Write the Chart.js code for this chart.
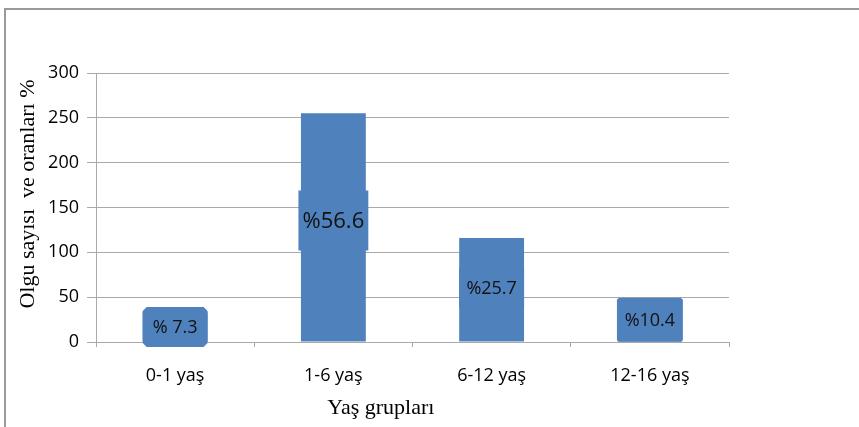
<!DOCTYPE html>
<html>
<head>
<meta charset="utf-8">
<script src="https://cdn.jsdelivr.net/npm/chart.js@4/dist/chart.umd.min.js"></script>
<style>
  html, body { margin: 0; padding: 0; background: #fff; }
  #wrap { position: relative; width: 859px; height: 427px; overflow: hidden; }
  #frame { position: absolute; left: 4px; top: 8px; width: 870px; height: 440px;
           border-left: 2px solid #9a9a9a; border-top: 2px solid #9a9a9a; }
  canvas { position: absolute; left: 0; top: 0; }
</style>
</head>
<body>
<div id="wrap">
  <div id="frame"></div>
  <canvas id="chart" width="859" height="427"></canvas>
</div>
<script>
// Yaş gruplarına göre olgu sayısı
const categories = ['0-1 yaş', '1-6 yaş', '6-12 yaş', '12-16 yaş'];
const olguSayisi = [33, 255, 116, 47];
const oranEtiketleri = ['% 7.3', '%56.6', '%25.7', '%10.4'];
const yTicks = [0, 50, 100, 150, 200, 250, 300];

const yTitle = 'Olgu sayısı  ve oranları %';
const xTitle = 'Yaş grupları';

// etiket kutuları (stil)
const labelFontSizes = [18, 22, 18, 18];
const labelBoxHeights = [40, 60, 40, 44];
const labelBoxExtra = [0, 5, 0, 1];
const labelShift = [0, -7, -2, -1];
const labelCorner = [4, 0, 0, 2];

const barColor = '#4f81bd';
const gridColor = '#a9a9a9';

const barLabels = {
    id: 'barLabels',
    afterDatasetsDraw(chart) {
        const ctx = chart.ctx;
        const meta = chart.getDatasetMeta(0);
        meta.data.forEach((bar, i) => {
            const w = bar.width + labelBoxExtra[i];
            const h = labelBoxHeights[i];
            const cx = bar.x;
            const cy = (bar.y + bar.base) / 2 + labelShift[i];
            const x0 = cx - w / 2, y0 = cy - h / 2, c = labelCorner[i];
            ctx.save();
            ctx.fillStyle = barColor;
            ctx.beginPath();
            ctx.moveTo(x0 + c, y0);
            ctx.lineTo(x0 + w - c, y0);
            ctx.lineTo(x0 + w, y0 + c);
            ctx.lineTo(x0 + w, y0 + h - c);
            ctx.lineTo(x0 + w - c, y0 + h);
            ctx.lineTo(x0 + c, y0 + h);
            ctx.lineTo(x0, y0 + h - c);
            ctx.lineTo(x0, y0 + c);
            ctx.closePath();
            ctx.fill();
            ctx.fillStyle = '#111';
            ctx.font = labelFontSizes[i] + 'px "Open Sans", sans-serif';
            ctx.textAlign = 'center';
            ctx.textBaseline = 'middle';
            ctx.fillText(oranEtiketleri[i], cx, cy + 1);
            ctx.restore();
        });
    },
    afterDraw(chart) {
        const ctx = chart.ctx;
        const area = chart.chartArea;
        ctx.save();
        ctx.fillStyle = '#000';
        ctx.font = '22px "Liberation Serif", serif';
        ctx.textAlign = 'center';
        ctx.textBaseline = 'middle';
        // x ekseni başlığı
        ctx.fillText(xTitle, area.left + (area.right - area.left) * 0.45, 408);
        // y ekseni başlığı
        ctx.translate(28, area.top + (area.bottom - area.top) * 0.45);
        ctx.rotate(-Math.PI / 2);
        ctx.fillText(yTitle, 0, 0);
        ctx.restore();
    }
};

const ctx = document.getElementById('chart').getContext('2d');
new Chart(ctx, {
    type: 'bar',
    data: {
        labels: categories,
        datasets: [{
            data: olguSayisi,
            backgroundColor: barColor,
            borderWidth: 0,
            barPercentage: 0.41,
            categoryPercentage: 1
        }]
    },
    options: {
        responsive: false,
        animation: false,
        layout: { padding: { top: 73, right: 130, bottom: 0, left: 0 } },
        plugins: {
            legend: { display: false },
            tooltip: { enabled: false }
        },
        scales: {
            x: {
                grid: {
                    offset: true,
                    drawOnChartArea: false,
                    drawTicks: true,
                    tickLength: 5,
                    color: gridColor
                },
                border: { display: true, color: gridColor },
                ticks: {
                    color: '#000',
                    padding: 18,
                    font: { family: '"Open Sans", sans-serif', size: 18 }
                },
                afterFit(scale) { scale.height = 85; }
            },
            y: {
                min: 0,
                max: 300,
                afterBuildTicks(scale) { scale.ticks = yTicks.map(v => ({ value: v })); },
                grid: { color: gridColor, tickLength: 9 },
                border: { display: true, color: gridColor },
                ticks: {
                    color: '#000',
                    padding: 8,
                    font: { family: '"Open Sans", sans-serif', size: 18 }
                },
                afterFit(scale) { scale.width = 96; }
            }
        }
    },
    plugins: [barLabels]
});
</script>
</body>
</html>
